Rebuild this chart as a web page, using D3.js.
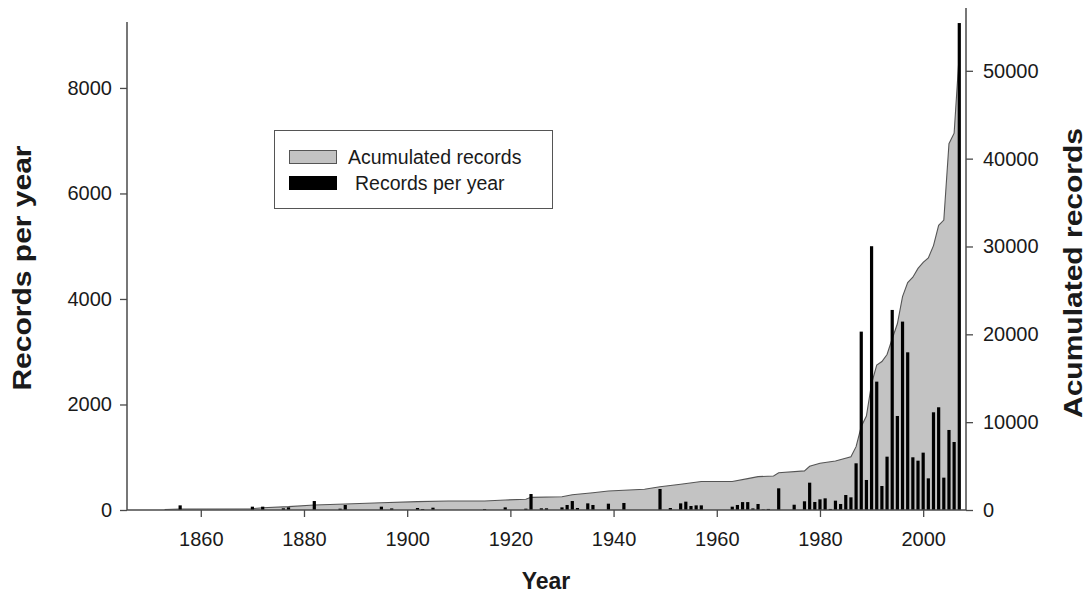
<!DOCTYPE html>
<html>
<head>
<meta charset="utf-8">
<script src="https://cdn.jsdelivr.net/npm/d3@7"></script>
<style>
  body { margin: 0; background: #fff; }
  text { font-family: "Liberation Sans", Arial, sans-serif; fill: #1a1a1a; }
</style>
</head>
<body>
<div id="chart"></div>
<script>
// Records per year (bars)
var barYears = [1856, 1870, 1872, 1876, 1877, 1882, 1887, 1888, 1895, 1897, 1902, 1903, 1905,
  1915, 1919, 1923, 1924, 1926, 1927, 1930, 1931, 1932, 1933, 1935, 1936, 1939, 1942,
  1949, 1951, 1953, 1954, 1955, 1956, 1957, 1963, 1964, 1965, 1966, 1967, 1968, 1969, 1970,
  1972, 1975, 1977, 1978, 1979, 1980, 1981, 1982, 1983, 1984, 1985, 1986, 1987,
  1988, 1989, 1990, 1991, 1992, 1993, 1994, 1995, 1996, 1997, 1998, 1999, 2000,
  2001, 2002, 2003, 2004, 2005, 2006, 2007];
var barRecords = [88, 63, 63, 32, 50, 170, 25, 95, 63, 30, 38, 19, 44,
  19, 50, 25, 303, 32, 32, 50, 95, 170, 38, 126, 95, 120, 133,
  398, 38, 126, 158, 76, 88, 88, 63, 95, 150, 150, 30, 114, 10, 20,
  411, 100, 165, 518, 152, 202, 221, 20, 177, 114, 284, 240, 885,
  3381, 569, 5000, 2433, 455, 1011, 3792, 1782, 3571, 2989, 999, 935, 1087,
  600, 1852, 1947, 613, 1517, 1289, 9230];

// Acumulated records (area)
var accYears = [1853, 1856, 1870, 1872, 1877, 1882, 1888, 1895, 1902, 1908, 1915, 1919, 1923, 1924,
  1930, 1932, 1936, 1939, 1946, 1949, 1953, 1957, 1963, 1966, 1968, 1971, 1972, 1977, 1978,
  1980, 1983, 1986, 1987, 1988, 1989, 1990, 1991, 1992, 1993, 1994, 1995, 1996, 1997,
  1998, 1999, 2000, 2001, 2002, 2003, 2004, 2005, 2006, 2007];
var accRecords = [60, 120, 150, 260, 380, 570, 680, 830, 950, 1025, 1025, 1140, 1215, 1440,
  1515, 1745, 1970, 2165, 2355, 2655, 2940, 3245, 3245, 3570, 3795, 3870, 4250, 4450, 4970,
  5315, 5580, 6070, 7210, 9500, 10700, 14400, 16500, 16900, 17700, 19500, 21200, 24300, 25900,
  26500, 27500, 28200, 28700, 30100, 32400, 33000, 41700, 42900, 52000];

var yearTicks = [1860, 1880, 1900, 1920, 1940, 1960, 1980, 2000];
var leftTicks = [0, 2000, 4000, 6000, 8000];
var rightTicks = [0, 10000, 20000, 30000, 40000, 50000];

var svgWidth = 1088;
var svgHeight = 599;

var svg = d3.select("#chart")
  .append("svg")
  .attr("width", svgWidth)
  .attr("height", svgHeight);

var x0 = 127, x1 = 966, yBase = 510;

var xScale = d3.scaleLinear()
  .domain([1845.7, 2008.3])
  .range([x0, x1]);

var yLeft = d3.scaleLinear()
  .domain([0, 9250])
  .range([yBase, 22]);

var yRight = d3.scaleLinear()
  .domain([0, 57150])
  .range([yBase, 8]);

var axisColor = "#4a4a4a";

// Accumulated area
var acc = accYears.map((y, i) => ({ year: y, value: accRecords[i] }));

var area = d3.area()
  .x(d => xScale(d.year))
  .y0(yBase)
  .y1(d => yRight(d.value));

var line = d3.line()
  .x(d => xScale(d.year))
  .y(d => yRight(d.value));

svg.append("path")
  .datum(acc)
  .attr("d", area)
  .attr("fill", "#c3c3c3");

svg.append("path")
  .datum(acc)
  .attr("d", line)
  .attr("fill", "none")
  .attr("stroke", "#555")
  .attr("stroke-width", 1.1);

// Bars
var bars = barYears.map((y, i) => ({ year: y, value: barRecords[i] }));
var barW = 3.2;

svg.selectAll(".bar")
  .data(bars)
  .enter()
  .append("rect")
  .attr("class", "bar")
  .attr("x", d => xScale(d.year) - barW / 2)
  .attr("y", d => yLeft(d.value))
  .attr("width", barW)
  .attr("height", d => yBase - yLeft(d.value))
  .attr("fill", "#000");

// Axes
function styleAxis(size) {
  return function(g) {
    g.select(".domain").remove();
    g.selectAll(".tick line").attr("stroke", axisColor).attr("stroke-width", 1.3);
    g.selectAll(".tick text")
      .attr("font-size", size)
      .attr("fill", "#1a1a1a")
      .style("font-family", "'Liberation Sans', Arial, sans-serif");
  };
}

var bottomAxis = d3.axisBottom(xScale)
  .tickValues(yearTicks)
  .tickSize(7)
  .tickPadding(15)
  .tickFormat(d3.format("d"));

svg.append("g")
  .attr("transform", `translate(0, ${yBase})`)
  .call(bottomAxis)
  .call(styleAxis("20px"));

var leftAxis = d3.axisLeft(yLeft)
  .tickValues(leftTicks)
  .tickSize(7)
  .tickPadding(8)
  .tickFormat(d3.format("d"));

svg.append("g")
  .attr("transform", `translate(${x0}, 0)`)
  .call(leftAxis)
  .call(styleAxis("20px"));

var rightAxis = d3.axisRight(yRight)
  .tickValues(rightTicks)
  .tickSize(7)
  .tickPadding(10)
  .tickFormat(d3.format("d"));

svg.append("g")
  .attr("transform", `translate(${x1}, 0)`)
  .call(rightAxis)
  .call(styleAxis("20px"));

// Axis lines
svg.append("line")
  .attr("x1", x0).attr("x2", x0)
  .attr("y1", 22).attr("y2", yBase)
  .attr("stroke", axisColor).attr("stroke-width", 1.5);

svg.append("line")
  .attr("x1", x1).attr("x2", x1)
  .attr("y1", 8).attr("y2", yBase)
  .attr("stroke", axisColor).attr("stroke-width", 1.5);

svg.append("line")
  .attr("x1", x0).attr("x2", x1)
  .attr("y1", yBase).attr("y2", yBase)
  .attr("stroke", axisColor).attr("stroke-width", 1.5);

// Axis titles
svg.append("text")
  .attr("x", 546)
  .attr("y", 589)
  .attr("text-anchor", "middle")
  .attr("font-size", "23px")
  .attr("font-weight", "bold")
  .text("Year");

svg.append("text")
  .attr("transform", "translate(31, 268) rotate(-90) scale(1.2, 1)")
  .attr("text-anchor", "middle")
  .attr("font-size", "25px")
  .attr("font-weight", "bold")
  .text("Records per year");

svg.append("text")
  .attr("transform", "translate(1082, 273) rotate(-90) scale(1.2, 1)")
  .attr("text-anchor", "middle")
  .attr("font-size", "25px")
  .attr("font-weight", "bold")
  .text("Acumulated records");

// Legend
var legend = svg.append("g");

legend.append("rect")
  .attr("x", 274.5).attr("y", 130.5)
  .attr("width", 278).attr("height", 78)
  .attr("fill", "#fff")
  .attr("stroke", "#555")
  .attr("stroke-width", 1);

legend.append("rect")
  .attr("x", 289.5).attr("y", 150.5)
  .attr("width", 47).attr("height", 13)
  .attr("fill", "#c3c3c3")
  .attr("stroke", "#555")
  .attr("stroke-width", 1);

legend.append("rect")
  .attr("x", 289).attr("y", 176)
  .attr("width", 48).attr("height", 14)
  .attr("fill", "#000");

legend.append("text")
  .attr("x", 348).attr("y", 164)
  .attr("font-size", "19.5px")
  .text("Acumulated records");

legend.append("text")
  .attr("x", 355).attr("y", 190)
  .attr("font-size", "19.5px")
  .text("Records per year");
</script>
</body>
</html>
